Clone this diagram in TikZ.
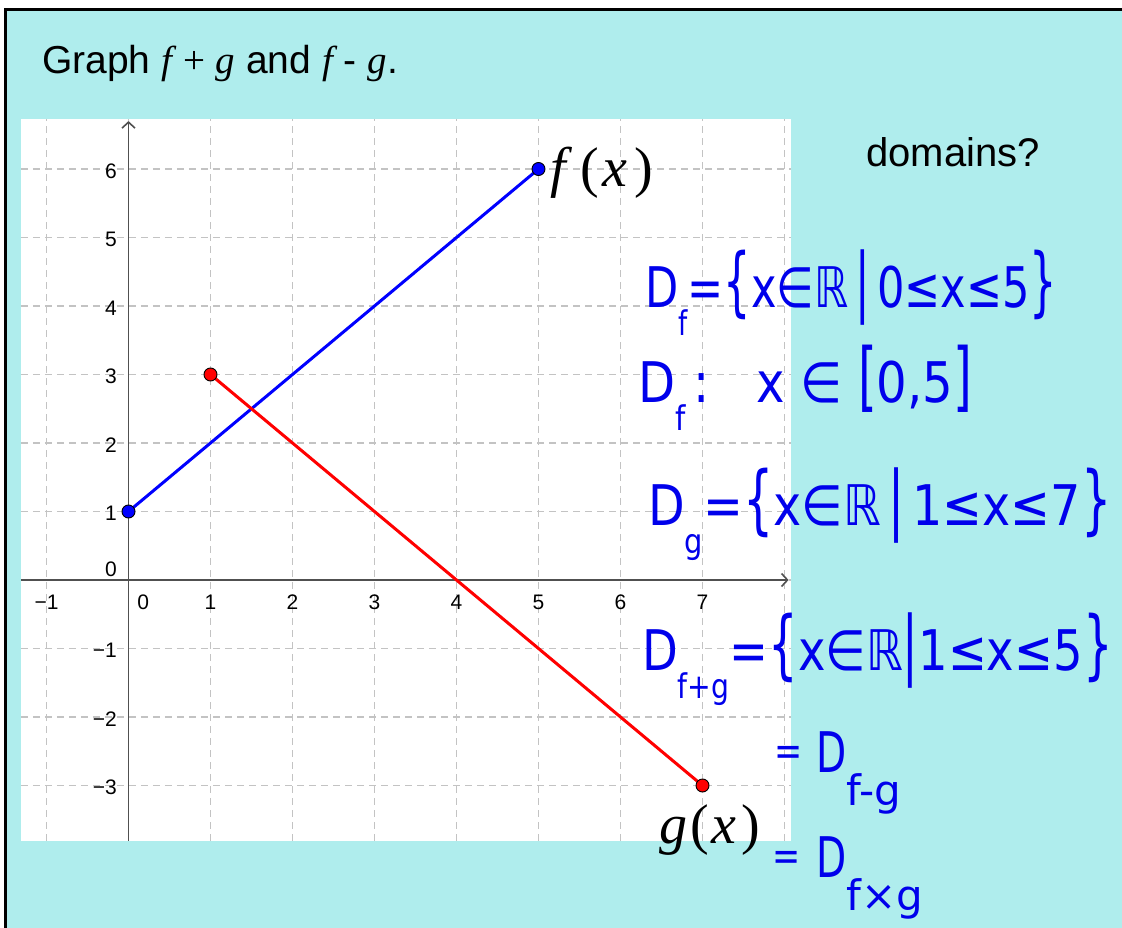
\documentclass[tikz,border=0pt]{standalone}
\usepackage{fontspec}
\setmainfont{Liberation Sans}
\newfontfamily\tms{Liberation Serif}
\newfontfamily\hd{DejaVu Sans}
\usetikzlibrary{arrows.meta}
\definecolor{bgc}{RGB}{175,237,237}
\definecolor{gridc}{RGB}{195,195,195}
\definecolor{axisc}{RGB}{80,80,80}
\definecolor{fblue}{RGB}{0,0,255}
\definecolor{gred}{RGB}{255,0,0}
\definecolor{hblue}{RGB}{0,0,235}
\newcommand\hsub[1]{\raisebox{-0.5em}{\fontsize{34}{34}\selectfont #1}}
\newcommand\bsub[1]{\raisebox{-0.6em}{\fontsize{42}{42}\selectfont #1}}
\newcommand\tall[1]{\scalebox{1}[1.35]{#1}}
\newcommand\heq{\raisebox{0.12em}{\fontsize{42}{42}\selectfont\scalebox{0.8}[1]{=}}}
\tikzset{
  gridl/.style={draw=gridc, line width=1.3pt, dash pattern=on 7pt off 5pt},
  axisl/.style={draw=axisc, line width=1.6pt},
  tick/.style={font=\fontsize{21}{21}\selectfont, inner sep=0pt},
  fpt/.style={circle, fill=fblue, draw=black, line width=0.9pt, minimum size=13pt, inner sep=0pt},
  gpt/.style={circle, fill=gred, draw=black, line width=0.9pt, minimum size=13pt, inner sep=0pt},
  hand/.style={text=hblue, inner sep=0pt, anchor=base west, font=\hd\fontsize{56}{56}\selectfont},
}
\begin{document}
\begin{tikzpicture}[x=1pt,y=-1pt]
\useasboundingbox (0,0) rectangle (1122,928);
\fill[white] (0,0) rectangle (1122,928);
\filldraw[fill=bgc, draw=black, line width=3pt] (5.5,9.5) rectangle (1140,950);
\fill[white] (21,119) rectangle (791,841);

\node[anchor=base west, inner sep=0pt, font=\fontsize{39}{39}\selectfont] (title) at (42,74)
  {Graph {\tms\itshape f} {\tms +} {\tms\itshape g} and {\tms\itshape f} - {\tms\itshape g}.};
\node[anchor=base west, inner sep=0pt, font=\fontsize{40}{40}\selectfont] (dom) at (866,167) {domains?};

\begin{scope}[shift={(128.5,580)}, x=82pt, y=68.5pt]
  \foreach \i in {-1,...,8} \draw[gridl] (\i,-3.81) -- (\i,6.73);
  \foreach \j in {-3,...,6} \draw[gridl] (-1.311,\j) -- (8.079,\j);
  \coordinate (xl) at (-1.311,0);
  \coordinate (xr) at (8.05,0);
  \coordinate (yb) at (0,-3.81);
  \coordinate (yt) at (0,6.70);
  \draw[axisl, -{Straight Barb[length=6pt,width=13pt]}] (xl) -- (xr);
  \draw[axisl, -{Straight Barb[length=6pt,width=13pt]}] (yb) -- (yt);
  % x tick labels
  \node[tick] (xm1) at (-1,-0.32) {−1};
  \node[tick] (x0) at (0.18,-0.32) {0};
  \foreach \i in {1,...,7} \node[tick] (x\i) at (\i,-0.32) {\i};
  % y tick labels
  \node[tick, anchor=east] (y0) at (-0.14,0.16) {0};
  \foreach \j in {1,...,6} \node[tick, anchor=east] (y\j) at (-0.14,\j-0.03) {\j};
  \foreach \j in {1,2,3} \node[tick, anchor=east] (ym\j) at (-0.14,-\j-0.03) {−\j};
  % functions
  \coordinate (F0) at (0,1);
  \coordinate (F5) at (5,6);
  \coordinate (G1) at (1,3);
  \coordinate (G7) at (7,-3);
  \draw[fblue, line width=3pt] (F0) -- (F5);
  \draw[gred, line width=3pt] (G1) -- (G7);
  \node[fpt] (f0) at (F0) {};
  \node[fpt] (f5) at (F5) {};
  \node[gpt] (g1) at (G1) {};
  \node[gpt] (g7) at (G7) {};
\end{scope}

\node[anchor=base west, inner sep=0pt, font=\tms\fontsize{56}{56}\selectfont] (flab) at (550,187)
  {\itshape f\hspace{15pt}\upshape(\hspace{3pt}\itshape x\hspace{7pt}\upshape)};
\node[anchor=base west, inner sep=0pt, font=\tms\fontsize{56}{56}\selectfont] (glab) at (659,843)
  {\itshape g\hspace{3pt}\upshape(\hspace{3pt}\itshape x\hspace{5pt}\upshape)};

% handwritten notes
\node[hand] (h1) at (645,307) {\scalebox{0.77}[1]{D\hsub{f}=\tall{\{}x∈ℝ\,\tall{|}\,0≤x≤5\tall{\}}}};
\node[hand] (h2) at (638,402) {\scalebox{0.86}[1]{D\hsub{f}\,:\;\; x ∈ \tall{[}0,5\tall{]}}};
\node[hand] (h3) at (648,525) {\scalebox{0.85}[1]{D\hsub{g}=\tall{\{}x∈ℝ\,\tall{|}\,1≤x≤7\tall{\}}}};
\node[hand] (h4) at (642,670) {\scalebox{0.83}[1]{D\hsub{f+g}=\tall{\{}x∈ℝ\tall{|}1≤x≤5\tall{\}}}};
\node[hand] (h5) at (774,772) {\heq\hspace{14pt}\scalebox{0.7}[1]{D}\bsub{f-g}};
\node[hand] (h6) at (772,877) {\heq\hspace{16pt}\scalebox{0.7}[1]{D}\bsub{f×g}};
\end{tikzpicture}
\end{document}
